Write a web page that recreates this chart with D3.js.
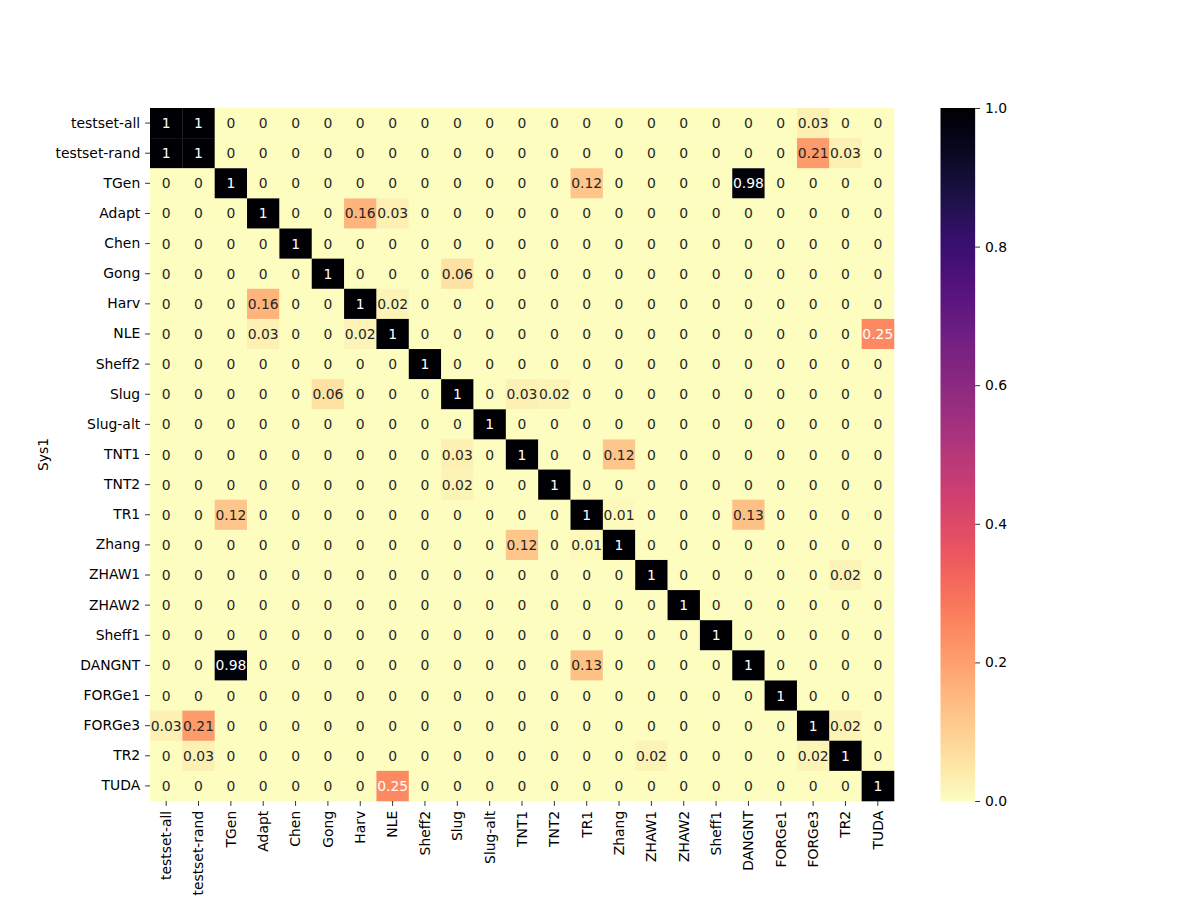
<!DOCTYPE html>
<html>
<head>
<meta charset="utf-8">
<script src="https://cdn.jsdelivr.net/npm/d3@7"></script>
<style>
  body { margin: 0; background: #fff; }
  svg text { font-family: "DejaVu Sans", sans-serif; }
</style>
</head>
<body>
<script>
const systems = ["testset-all", "testset-rand", "TGen", "Adapt", "Chen", "Gong", "Harv", "NLE",
  "Sheff2", "Slug", "Slug-alt", "TNT1", "TNT2", "TR1", "Zhang", "ZHAW1", "ZHAW2", "Sheff1",
  "DANGNT", "FORGe1", "FORGe3", "TR2", "TUDA"];

// one row per Sys1 entry, columns in the same order as systems
const overlap = [
  [1, 1, 0, 0, 0, 0, 0, 0, 0, 0, 0, 0, 0, 0, 0, 0, 0, 0, 0, 0, 0.03, 0, 0],
  [1, 1, 0, 0, 0, 0, 0, 0, 0, 0, 0, 0, 0, 0, 0, 0, 0, 0, 0, 0, 0.21, 0.03, 0],
  [0, 0, 1, 0, 0, 0, 0, 0, 0, 0, 0, 0, 0, 0.12, 0, 0, 0, 0, 0.98, 0, 0, 0, 0],
  [0, 0, 0, 1, 0, 0, 0.16, 0.03, 0, 0, 0, 0, 0, 0, 0, 0, 0, 0, 0, 0, 0, 0, 0],
  [0, 0, 0, 0, 1, 0, 0, 0, 0, 0, 0, 0, 0, 0, 0, 0, 0, 0, 0, 0, 0, 0, 0],
  [0, 0, 0, 0, 0, 1, 0, 0, 0, 0.06, 0, 0, 0, 0, 0, 0, 0, 0, 0, 0, 0, 0, 0],
  [0, 0, 0, 0.16, 0, 0, 1, 0.02, 0, 0, 0, 0, 0, 0, 0, 0, 0, 0, 0, 0, 0, 0, 0],
  [0, 0, 0, 0.03, 0, 0, 0.02, 1, 0, 0, 0, 0, 0, 0, 0, 0, 0, 0, 0, 0, 0, 0, 0.25],
  [0, 0, 0, 0, 0, 0, 0, 0, 1, 0, 0, 0, 0, 0, 0, 0, 0, 0, 0, 0, 0, 0, 0],
  [0, 0, 0, 0, 0, 0.06, 0, 0, 0, 1, 0, 0.03, 0.02, 0, 0, 0, 0, 0, 0, 0, 0, 0, 0],
  [0, 0, 0, 0, 0, 0, 0, 0, 0, 0, 1, 0, 0, 0, 0, 0, 0, 0, 0, 0, 0, 0, 0],
  [0, 0, 0, 0, 0, 0, 0, 0, 0, 0.03, 0, 1, 0, 0, 0.12, 0, 0, 0, 0, 0, 0, 0, 0],
  [0, 0, 0, 0, 0, 0, 0, 0, 0, 0.02, 0, 0, 1, 0, 0, 0, 0, 0, 0, 0, 0, 0, 0],
  [0, 0, 0.12, 0, 0, 0, 0, 0, 0, 0, 0, 0, 0, 1, 0.01, 0, 0, 0, 0.13, 0, 0, 0, 0],
  [0, 0, 0, 0, 0, 0, 0, 0, 0, 0, 0, 0.12, 0, 0.01, 1, 0, 0, 0, 0, 0, 0, 0, 0],
  [0, 0, 0, 0, 0, 0, 0, 0, 0, 0, 0, 0, 0, 0, 0, 1, 0, 0, 0, 0, 0, 0.02, 0],
  [0, 0, 0, 0, 0, 0, 0, 0, 0, 0, 0, 0, 0, 0, 0, 0, 1, 0, 0, 0, 0, 0, 0],
  [0, 0, 0, 0, 0, 0, 0, 0, 0, 0, 0, 0, 0, 0, 0, 0, 0, 1, 0, 0, 0, 0, 0],
  [0, 0, 0.98, 0, 0, 0, 0, 0, 0, 0, 0, 0, 0, 0.13, 0, 0, 0, 0, 1, 0, 0, 0, 0],
  [0, 0, 0, 0, 0, 0, 0, 0, 0, 0, 0, 0, 0, 0, 0, 0, 0, 0, 0, 1, 0, 0, 0],
  [0.03, 0.21, 0, 0, 0, 0, 0, 0, 0, 0, 0, 0, 0, 0, 0, 0, 0, 0, 0, 0, 1, 0.02, 0],
  [0, 0.03, 0, 0, 0, 0, 0, 0, 0, 0, 0, 0, 0, 0, 0, 0.02, 0, 0, 0, 0, 0.02, 1, 0],
  [0, 0, 0, 0, 0, 0, 0, 0.25, 0, 0, 0, 0, 0, 0, 0, 0, 0, 0, 0, 0, 0, 0, 1]
];

const colorbarTicks = [0, 0.2, 0.4, 0.6, 0.8, 1.0];

const W = 1200, H = 900;
const margin = { left: 150, top: 108, right: 894, bottom: 801 };
const tickLen = 4.9, tickPad = 4.9, fontPx = 13.9;

const color = v => d3.interpolateMagma(1 - v);
const fmt = d3.format(".2~g");

// seaborn picks annotation colour from cell luminance
function textColor(c) {
  const rgb = d3.rgb(c);
  const lin = x => { x /= 255; return x <= 0.03928 ? x / 12.92 : Math.pow((x + 0.055) / 1.055, 2.4); };
  const lum = 0.2126 * lin(rgb.r) + 0.7152 * lin(rgb.g) + 0.0722 * lin(rgb.b);
  return lum > 0.408 ? "#262626" : "#ffffff";
}

const svg = d3.select("body").append("svg")
  .attr("width", W)
  .attr("height", H);

const xScale = d3.scaleBand().domain(systems).range([margin.left, margin.right]);
const yScale = d3.scaleBand().domain(systems).range([margin.top, margin.bottom]);

const cells = [];
overlap.forEach((row, i) => row.forEach((v, j) => cells.push({ r: systems[i], c: systems[j], v: v })));

svg.append("g").selectAll("rect")
  .data(cells)
  .enter()
  .append("rect")
  .attr("x", d => xScale(d.c))
  .attr("y", d => yScale(d.r))
  .attr("width", xScale.bandwidth() + 0.3)
  .attr("height", yScale.bandwidth() + 0.3)
  .attr("fill", d => color(d.v));

svg.append("g").selectAll("text")
  .data(cells)
  .enter()
  .append("text")
  .attr("x", d => xScale(d.c) + xScale.bandwidth() / 2)
  .attr("y", d => yScale(d.r) + yScale.bandwidth() / 2)
  .attr("text-anchor", "middle")
  .attr("dominant-baseline", "central")
  .style("font-size", fontPx + "px")
  .attr("fill", d => textColor(color(d.v)))
  .text(d => fmt(d.v));

// axes
const yAxis = svg.append("g")
  .attr("transform", "translate(" + margin.left + ",0)")
  .call(d3.axisLeft(yScale).tickSize(tickLen).tickPadding(tickPad));
yAxis.select(".domain").remove();
yAxis.selectAll("text").style("font-size", fontPx + "px").attr("fill", "#000");
yAxis.selectAll("line").attr("stroke", "#000").attr("stroke-width", 0.8);

const xAxis = svg.append("g")
  .attr("transform", "translate(0," + margin.bottom + ")")
  .call(d3.axisBottom(xScale).tickSize(tickLen).tickPadding(tickPad));
xAxis.select(".domain").remove();
xAxis.selectAll("line").attr("stroke", "#000").attr("stroke-width", 0.8);
xAxis.selectAll("text")
  .style("font-size", fontPx + "px")
  .attr("fill", "#000")
  .attr("transform", "rotate(-90)")
  .attr("x", -(tickLen + tickPad))
  .attr("y", 0)
  .attr("dy", "0.35em")
  .style("text-anchor", "end");

svg.append("text")
  .attr("transform", "translate(48," + ((margin.top + margin.bottom) / 2) + ") rotate(-90)")
  .attr("text-anchor", "middle")
  .style("font-size", fontPx + "px")
  .text("Sys1");

// colorbar
const cbX = 940.5, cbW = 34.65;
const cbScale = d3.scaleLinear().domain([0, 1]).range([margin.bottom, margin.top]);

const grad = svg.append("defs").append("linearGradient")
  .attr("id", "cbgrad")
  .attr("x1", 0).attr("y1", 1).attr("x2", 0).attr("y2", 0);
grad.selectAll("stop")
  .data(d3.range(0, 1.0001, 0.02))
  .enter()
  .append("stop")
  .attr("offset", d => d)
  .attr("stop-color", d => color(d));

svg.append("rect")
  .attr("x", cbX)
  .attr("y", margin.top)
  .attr("width", cbW)
  .attr("height", margin.bottom - margin.top)
  .attr("fill", "url(#cbgrad)");

const cbAxis = svg.append("g")
  .attr("transform", "translate(" + (cbX + cbW) + ",0)")
  .call(d3.axisRight(cbScale).tickValues(colorbarTicks).tickFormat(d3.format(".1f")).tickSize(tickLen).tickPadding(tickPad));
cbAxis.select(".domain").remove();
cbAxis.selectAll("text").style("font-size", fontPx + "px").attr("fill", "#000");
cbAxis.selectAll("line").attr("stroke", "#000").attr("stroke-width", 0.8);
</script>
</body>
</html>
